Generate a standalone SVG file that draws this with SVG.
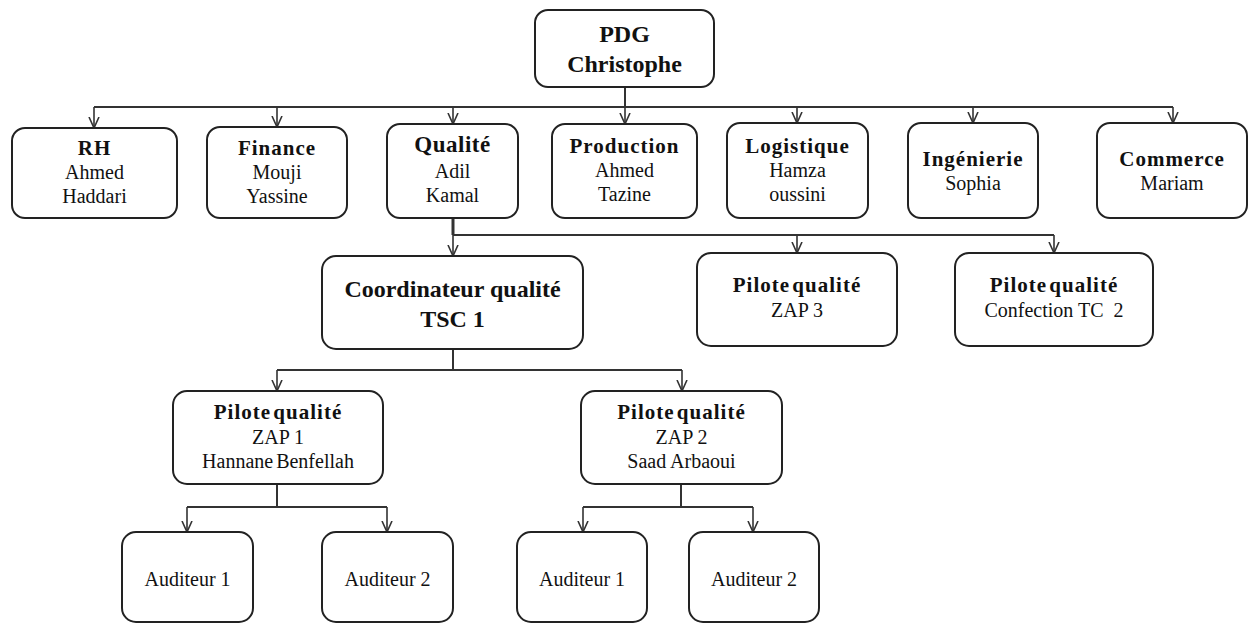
<svg xmlns="http://www.w3.org/2000/svg" width="1252" height="624" viewBox="0 0 1252 624">
<defs>
<marker id="arr" viewBox="0 0 12 12" refX="11" refY="6" markerWidth="12" markerHeight="12" markerUnits="userSpaceOnUse" orient="auto">
<path d="M0,1 L11,6 L0,11" fill="none" stroke="#333" stroke-width="1.6"/>
</marker>
<style>
.box{fill:#fff;stroke:#222;stroke-width:2}
text{font-family:"Liberation Serif","Times New Roman",serif;fill:#111;text-anchor:middle}
.b{font-weight:bold;font-size:21px;letter-spacing:1px}
.bl{font-weight:bold;font-size:24px}
.r{font-size:20px}
.pq{font-weight:bold;font-size:21px;letter-spacing:1px;word-spacing:-4px}
.c{fill:none;stroke:#333;stroke-width:2}
.a{fill:none;stroke:#333;stroke-width:1.6;marker-end:url(#arr)}
</style>
</defs>
<g id="connectors">
<path class="c" d="M625,87 V107 M94,107 H1173"/>
<path class="a" d="M94,107 V128"/>
<path class="a" d="M277,107 V127"/>
<path class="a" d="M453,107 V124"/>
<path class="a" d="M625,107 V124"/>
<path class="a" d="M797,107 V123"/>
<path class="a" d="M973,107 V123"/>
<path class="a" d="M1173,107 V123"/>
<path class="c" d="M453,218 V235" style="stroke-width:3"/>
<path class="c" d="M453,235 H1054"/>
<path class="a" d="M453,235 V256"/>
<path class="a" d="M797,235 V253"/>
<path class="a" d="M1054,235 V253"/>
<path class="c" d="M453,349 V370 M277,370 H682"/>
<path class="a" d="M277,370 V391"/>
<path class="a" d="M682,370 V391"/>
<path class="c" d="M277,484 V507 M187,507 H387"/>
<path class="a" d="M187,507 V532"/>
<path class="a" d="M387,507 V532"/>
<path class="c" d="M681,484 V507 M583,507 H753"/>
<path class="a" d="M583,507 V532"/>
<path class="a" d="M753,507 V532"/>
</g>
<g id="pdg"><rect class="box" x="535" y="10" width="179" height="77" rx="13"/>
<text class="bl" x="624.5" y="42">PDG</text><text class="bl" x="624.5" y="72">Christophe</text></g>
<g id="rh"><rect class="box" x="12" y="128" width="165" height="90" rx="13"/>
<text class="b" x="94.5" y="155">RH</text><text class="r" x="94.5" y="179">Ahmed</text><text class="r" x="94.5" y="203">Haddari</text></g>
<g id="finance"><rect class="box" x="207" y="127" width="140" height="91" rx="13"/>
<text class="b" x="277" y="155">Finance</text><text class="r" x="277" y="179">Mouji</text><text class="r" x="277" y="203">Yassine</text></g>
<g id="qualite"><rect class="box" x="387" y="124" width="131" height="94" rx="13"/>
<text class="b" x="452.5" y="152" style="font-size:23px;letter-spacing:0.5px">Qualité</text><text class="r" x="452.5" y="178">Adil</text><text class="r" x="452.5" y="202">Kamal</text></g>
<g id="production"><rect class="box" x="552" y="124" width="145" height="94" rx="13"/>
<text class="b" x="624.5" y="153">Production</text><text class="r" x="624.5" y="177">Ahmed</text><text class="r" x="624.5" y="201">Tazine</text></g>
<g id="logistique"><rect class="box" x="727" y="123" width="141" height="95" rx="13"/>
<text class="b" x="797.5" y="153">Logistique</text><text class="r" x="797.5" y="177">Hamza</text><text class="r" x="797.5" y="201">oussini</text></g>
<g id="ingenierie"><rect class="box" x="908" y="123" width="130" height="95" rx="13"/>
<text class="b" x="973" y="166">Ingénierie</text><text class="r" x="973" y="190">Sophia</text></g>
<g id="commerce"><rect class="box" x="1097" y="123" width="150" height="95" rx="13"/>
<text class="b" x="1172" y="166">Commerce</text><text class="r" x="1172" y="190">Mariam</text></g>
<g id="coordinateur"><rect class="box" x="322" y="256" width="261" height="93" rx="14"/>
<text class="bl" x="452.5" y="297">Coordinateur qualité</text><text class="bl" x="452.5" y="327">TSC 1</text></g>
<g id="zap3"><rect class="box" x="697" y="253" width="200" height="93" rx="14"/>
<text class="pq" x="797" y="292">Pilote qualité</text><text class="r" x="797" y="317">ZAP 3</text></g>
<g id="confection"><rect class="box" x="955" y="253" width="198" height="93" rx="14"/>
<text class="pq" x="1054" y="292">Pilote qualité</text><text class="r" x="1054" y="317" xml:space="preserve">Confection TC  2</text></g>
<g id="zap1"><rect class="box" x="173" y="391" width="210" height="93" rx="14"/>
<text class="pq" x="278" y="419">Pilote qualité</text><text class="r" x="278" y="444">ZAP 1</text><text class="r" x="278" y="468" style="word-spacing:-2px">Hannane Benfellah</text></g>
<g id="zap2"><rect class="box" x="581" y="391" width="201" height="93" rx="14"/>
<text class="pq" x="681.5" y="419">Pilote qualité</text><text class="r" x="681.5" y="444">ZAP 2</text><text class="r" x="681.5" y="468">Saad Arbaoui</text></g>
<g id="auditeur1a"><rect class="box" x="122" y="532" width="131" height="90" rx="14"/>
<text class="r" x="187.5" y="586">Auditeur 1</text></g>
<g id="auditeur2a"><rect class="box" x="322" y="532" width="131" height="90" rx="14"/>
<text class="r" x="387.5" y="586">Auditeur 2</text></g>
<g id="auditeur1b"><rect class="box" x="517" y="532" width="130" height="90" rx="14"/>
<text class="r" x="582" y="586">Auditeur 1</text></g>
<g id="auditeur2b"><rect class="box" x="689" y="532" width="130" height="90" rx="14"/>
<text class="r" x="754" y="586">Auditeur 2</text></g>
</svg>
